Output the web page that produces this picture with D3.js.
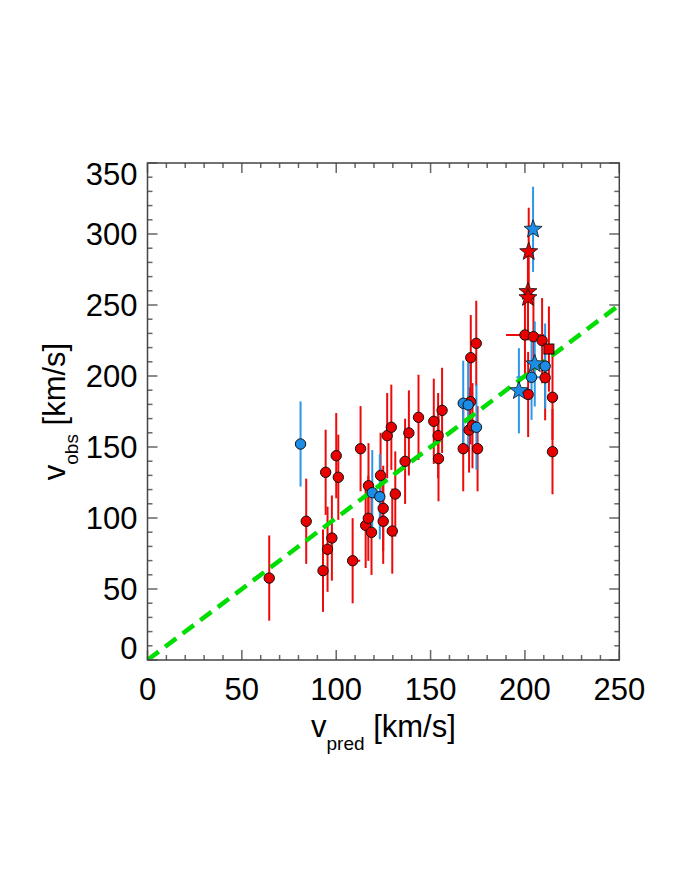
<!DOCTYPE html>
<html><head><meta charset="utf-8">
<script src="https://cdn.jsdelivr.net/npm/d3@7"></script>
<style>
html,body{margin:0;padding:0;background:#fff;}
text{font-family:"Liberation Sans",Helvetica,Arial,sans-serif;fill:#000;}
</style></head>
<body><svg id="chart" width="680" height="880"></svg>
<script>
// ---- data ----
const xTicks = [0, 50, 100, 150, 200, 250];
const yTicks = [0, 50, 100, 150, 200, 250, 300, 350];

// red circles
const redCircX = [64.5, 84.1, 93.0, 95.4, 97.7, 94.4, 100.0, 101.1, 108.7, 112.9, 115.6, 117.0, 117.1, 118.7, 123.5, 124.9, 124.9, 127.0, 129.2, 129.7, 131.3, 136.5, 138.5, 143.6, 151.7, 154.0, 154.2, 156.1, 167.3, 171.2, 170.4, 172.2, 174.9, 171.3, 174.2, 200.0, 204.5, 209.1, 210.7, 201.7, 214.6, 214.6];
const redCircY = [57.7, 97.7, 62.9, 78.0, 85.9, 132.2, 143.9, 128.7, 69.9, 148.8, 94.8, 99.8, 122.7, 89.9, 130.0, 106.8, 97.7, 158.0, 163.9, 90.8, 116.9, 139.9, 159.9, 170.9, 168.1, 158.0, 141.8, 175.8, 148.8, 181.9, 162.0, 165.0, 148.8, 212.9, 223.0, 228.9, 227.7, 224.9, 198.8, 187.0, 185.0, 146.7];
const redCircYErr = [30, 30, 29, 30, 30, 30, 30, 30, 30, 30, 30, 30, 30, 30, 30, 30, 30, 30, 30, 30, 30, 30, 30, 30, 30, 30, 30, 30, 30, 30, 30, 30, 30, 30, 30, 30, 30, 30, 30, 30, 30, 30];
const redCircXErrLo = [0, 0, 0, 0, 0, 0, 0, 0, 0, 0, 0, 0, 0, 0, 0, 0, 0, 0, 0, 0, 0, 0, 0, 0, 0, 0, 0, 0, 0, 0, 0, 0, 0, 0, 0, 10, 0, 0, 0, 0, 0, 0];
const redCircXErrHi = [0, 0, 0, 0, 0, 0, 0, 0, 4, 0, 0, 0, 0, 0, 0, 0, 0, 0, 0, 0, 0, 0, 0, 0, 0, 0, 0, 0, 0, 0, 0, 0, 0, 0, 0, 10, 0, 0, 0, 0, 0, 0];

// red squares
const redSqX = [212.7];
const redSqY = [219.0];
const redSqYErr = [30];

// red stars
const redStarX = [202.0, 201.6, 201.6];
const redStarY = [287.5, 259.4, 255.1];
const redStarYErr = [31, 30, 30];

// blue circles
const blueCircX = [81.1, 119.1, 123.1, 167.3, 169.9, 174.3, 203.5, 210.7];
const blueCircY = [152.1, 117.8, 115.0, 180.8, 179.6, 163.9, 199.1, 207.0];
const blueCircYErr = [30, 30, 30, 30, 30, 30, 30, 30];
const blueCircXErrLo = [0, 0, 0, 0, 0, 0, 8, 0];
const blueCircXErrHi = [0, 0, 0, 0, 0, 0, 8, 0];

// blue stars
const blueStarX = [204.3, 205.2, 196.8];
const blueStarY = [303.3, 208.5, 189.6];
const blueStarYErr = [30, 30, 30];

// ---- layout ----
const svg = d3.select("#chart");
const L = 147.5, R = 619.3, T = 163, B = 660;
const x = d3.scaleLinear().domain([0, 250]).range([L, R]);
const y = d3.scaleLinear().domain([0, 350]).range([B, T]);

const RED = "#e80000", BLUE = "#1b8de6", REDBAR = "#ec0a0a", BLUEBAR = "#2a98ea";

function pts(xs, ys, yerr, xlo, xhi, color, shape, barColor) {
  return xs.map((v, i) => ({x: v, y: ys[i], ye: yerr[i],
    xl: xlo ? xlo[i] : 0, xh: xhi ? xhi[i] : 0, color, shape, barColor}));
}
const all = [].concat(
  pts(redCircX, redCircY, redCircYErr, redCircXErrLo, redCircXErrHi, RED, "circle", REDBAR),
  pts(blueCircX, blueCircY, blueCircYErr, blueCircXErrLo, blueCircXErrHi, BLUE, "circle", BLUEBAR),
  pts(redSqX, redSqY, redSqYErr, null, null, RED, "square", REDBAR),
  pts(redStarX, redStarY, redStarYErr, null, null, RED, "star", REDBAR),
  pts(blueStarX, blueStarY, blueStarYErr, null, null, BLUE, "star", BLUEBAR)
);

const clipId = "plotclip";
svg.append("clipPath").attr("id", clipId).append("rect")
  .attr("x", L).attr("y", T).attr("width", R - L).attr("height", B - T);

// error bars
const bars = svg.append("g");
all.forEach(d => {
  bars.append("line").attr("x1", x(d.x)).attr("x2", x(d.x))
    .attr("y1", y(d.y - d.ye)).attr("y2", y(d.y + d.ye))
    .attr("stroke", d.barColor).attr("stroke-width", 2);
  if (d.xl > 0 || d.xh > 0) {
    bars.append("line").attr("x1", x(d.x - d.xl)).attr("x2", x(d.x + d.xh))
      .attr("y1", y(d.y)).attr("y2", y(d.y))
      .attr("stroke", d.barColor).attr("stroke-width", 2);
  }
});

// 1:1 line
svg.append("line").attr("clip-path", `url(#${clipId})`)
  .attr("x1", x(0)).attr("y1", y(0)).attr("x2", x(250)).attr("y2", y(250))
  .attr("stroke", "#00dd00").attr("stroke-width", 4.5).attr("stroke-dasharray", "14,8");

function starPath(cx, cy, Ro, Ri) {
  let p = [];
  for (let k = 0; k < 10; k++) {
    const a = -Math.PI / 2 + k * Math.PI / 5;
    const r = k % 2 === 0 ? Ro : Ri;
    p.push([cx + r * Math.cos(a), cy + r * Math.sin(a)]);
  }
  return "M" + p.map(q => q.join(",")).join("L") + "Z";
}

// markers
const marks = svg.append("g");
all.forEach(d => {
  const cx = x(d.x), cy = y(d.y);
  if (d.shape === "circle") {
    marks.append("circle").attr("cx", cx).attr("cy", cy).attr("r", 5.2)
      .attr("fill", d.color).attr("stroke", "#111").attr("stroke-width", 1);
  } else if (d.shape === "square") {
    marks.append("rect").attr("x", cx - 5).attr("y", cy - 5).attr("width", 10).attr("height", 10)
      .attr("fill", d.color).attr("stroke", "#111").attr("stroke-width", 1);
  } else {
    marks.append("path").attr("d", starPath(cx, cy, 9.5, 4))
      .attr("fill", d.color).attr("stroke", "#111").attr("stroke-width", 0.8);
  }
});

// axes with inward ticks on all four sides
const tickColor = "#666";
function ticksFor(scale, majors, step) {
  const [a, b] = scale.domain();
  const minors = d3.range(a, b + 0.001, step).filter(v => !majors.includes(v));
  return {majors, minors};
}
const xt = ticksFor(x, xTicks, 10), yt = ticksFor(y, yTicks, 10);
const axG = svg.append("g").attr("stroke", tickColor).attr("stroke-width", 1.5);
xt.majors.concat(xt.minors).forEach(v => {
  const len = xt.majors.includes(v) ? 10 : 5;
  axG.append("line").attr("x1", x(v)).attr("x2", x(v)).attr("y1", B).attr("y2", B - len);
  axG.append("line").attr("x1", x(v)).attr("x2", x(v)).attr("y1", T).attr("y2", T + len);
});
yt.majors.concat(yt.minors).forEach(v => {
  const len = yt.majors.includes(v) ? 10 : 5;
  axG.append("line").attr("y1", y(v)).attr("y2", y(v)).attr("x1", L).attr("x2", L + len);
  axG.append("line").attr("y1", y(v)).attr("y2", y(v)).attr("x1", R).attr("x2", R - len);
});
svg.append("rect").attr("x", L).attr("y", T).attr("width", R - L).attr("height", B - T)
  .attr("fill", "none").attr("stroke", "#444").attr("stroke-width", 1.5);

// tick labels
const FS = 31;
svg.append("g").selectAll("text").data(xTicks).join("text")
  .attr("x", d => x(d)).attr("y", B + 40).attr("text-anchor", "middle")
  .attr("font-size", FS).text(d => d);
// end labels are nudged inward, as in the reference
const yLabelShift = v => v === 0 ? -12 : (v === 350 ? 11 : 0);
svg.append("g").selectAll("text").data(yTicks).join("text")
  .attr("x", L - 10).attr("y", d => y(d) + 11 + yLabelShift(d)).attr("text-anchor", "end")
  .attr("font-size", FS).text(d => d);

// axis titles
const xl = svg.append("text").attr("x", (L + R) / 2).attr("y", 737)
  .attr("text-anchor", "middle").attr("font-size", FS);
xl.append("tspan").text("v");
xl.append("tspan").attr("font-size", 19).attr("dy", 13).text("pred");
xl.append("tspan").attr("dy", -13).text(" [km/s]");

const yl = svg.append("text").attr("transform", `translate(65,${(T + B) / 2}) rotate(-90)`)
  .attr("text-anchor", "middle").attr("font-size", FS);
yl.append("tspan").text("v");
yl.append("tspan").attr("font-size", 19).attr("dy", 13).text("obs");
yl.append("tspan").attr("dy", -13).text(" [km/s]");
</script></body></html>
